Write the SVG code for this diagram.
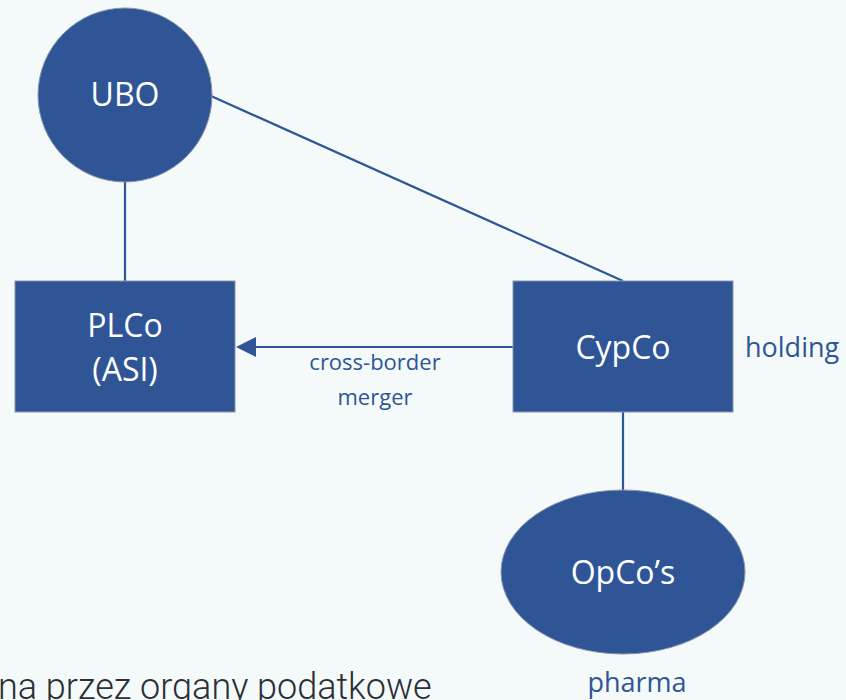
<svg xmlns="http://www.w3.org/2000/svg" width="846" height="700" viewBox="0 0 846 700">
  <defs>
    <style>
      .node { fill: #2f5597; stroke: #8a96a8; stroke-width: 1; }
      .ntext { fill: #ffffff; font-family: "Open Sans", "Noto Sans", sans-serif; text-anchor: middle; font-size: 32px; }
      .edge { stroke: #2f5597; stroke-width: 2.2; fill: none; }
      .lbl { fill: #2f5597; font-family: "Open Sans", "Noto Sans", sans-serif; }
    </style>
  </defs>
  <rect width="846" height="700" fill="#f4f9f9"/>

  <g id="connectors">
    <line class="edge" x1="125" y1="180" x2="125" y2="281"/>
    <line class="edge" x1="211" y1="96" x2="623" y2="281"/>
    <line class="edge" x1="513" y1="347" x2="254" y2="347"/>
    <path d="M236,347 L256,337 L256,357 z" fill="#2f5597"/>
    <line class="edge" x1="623" y1="412" x2="623" y2="490"/>
  </g>

  <g id="ubo">
    <circle class="node" cx="125" cy="95" r="87"/>
    <text class="ntext" x="125" y="106">UBO</text>
  </g>

  <g id="plco">
    <rect class="node" x="15" y="281" width="220" height="131"/>
    <text class="ntext" x="125" y="337">PLCo</text>
    <text class="ntext" x="125" y="381">(ASI)</text>
  </g>

  <g id="cypco">
    <rect class="node" x="513" y="281" width="220" height="131"/>
    <text class="ntext" x="623" y="359">CypCo</text>
  </g>

  <g id="opco">
    <ellipse class="node" cx="623" cy="572" rx="122" ry="82"/>
    <text class="ntext" x="623" y="584">OpCo’s</text>
  </g>

  <g id="labels">
    <text class="lbl" x="375" y="370" font-size="22" text-anchor="middle">cross-border</text>
    <text class="lbl" x="375" y="405" font-size="22" text-anchor="middle">merger</text>
    <text class="lbl" x="745" y="357" font-size="27">holding</text>
    <text class="lbl" x="637" y="692" font-size="27" text-anchor="middle">pharma</text>
  </g>

  <text x="-2" y="699" font-family="Roboto, 'Noto Sans', sans-serif" font-weight="300" font-size="36" fill="#2b2f36">na przez organy podatkowe</text>
</svg>
